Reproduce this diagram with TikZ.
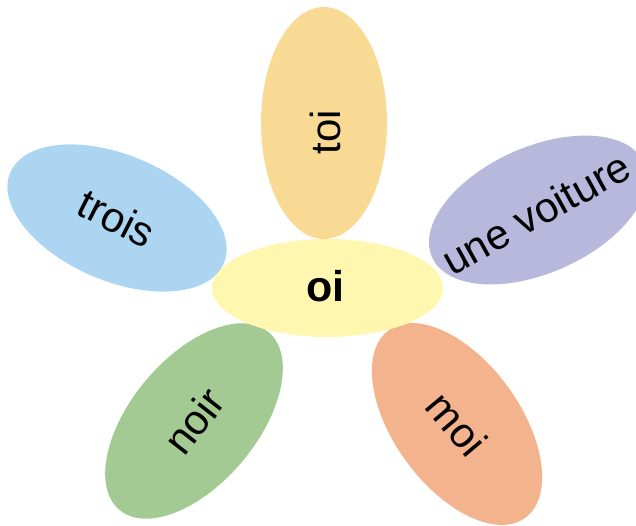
\documentclass[tikz,border=0pt]{standalone}
\usepackage{fontspec}
\setmainfont{Liberation Sans}
\usetikzlibrary{shapes.geometric}
\definecolor{ccenter}{RGB}{255,247,176}
\definecolor{ctop}{RGB}{249,218,148}
\definecolor{cblue}{RGB}{172,213,242}
\definecolor{clav}{RGB}{184,184,220}
\definecolor{cgreen}{RGB}{163,202,146}
\definecolor{csalmon}{RGB}{243,179,141}
\begin{document}
\begin{tikzpicture}[x=1pt,y=-1pt,
  petal/.style={ellipse, inner sep=0pt, minimum width=232pt, minimum height=126pt},
  lbl/.style={font=\fontsize{42}{44}\selectfont, inner sep=0pt}]
\useasboundingbox (0,0) rectangle (636,526);
\clip (0,0) rectangle (636,526);
\node[petal, fill=ctop, rotate=90] (ptop) at (324,123) {};
\node[petal, fill=cblue, rotate=-23] (pleft) at (117,218) {};
\node[petal, fill=clav, rotate=24] (pright) at (538,210) {};
\node[petal, fill=cgreen, rotate=50] (pll) at (194,421) {};
\node[petal, fill=csalmon, rotate=-54] (plr) at (457,424) {};
\node[ellipse, fill=ccenter, inner sep=0pt, minimum width=231pt, minimum height=98pt] (center) at (327.5,288) {};
\node[lbl, font=\fontsize{43}{45}\selectfont\bfseries] (tcenter) at ([xshift=-2pt,yshift=2pt]center.center) {oi};
\node[lbl, rotate=90] (ttop) at ([xshift=1pt,yshift=-9pt]ptop.center) {toi};
\node[lbl, rotate=-27] (tleft) at (pleft.center) {trois};
\node[lbl, rotate=29] (tright) at ([xshift=-2pt,yshift=-3pt]pright.center) {une voiture};
\node[lbl, rotate=52] (tll) at (pll.center) {noir};
\node[lbl, rotate=-50] (tlr) at (plr.center) {moi};
\end{tikzpicture}
\end{document}
